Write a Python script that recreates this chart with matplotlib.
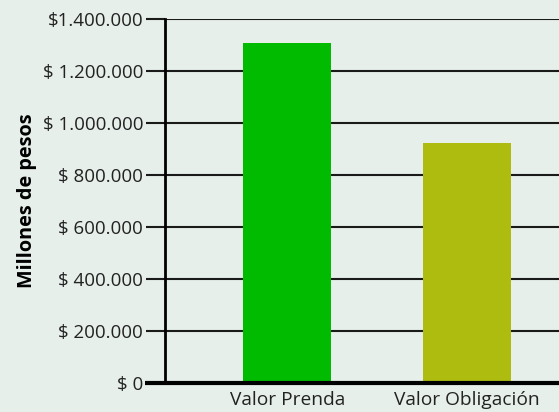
import matplotlib.pyplot as plt

# --- data ---
categories = ['Valor Prenda', 'Valor Obligación']
valores = [1307000, 923000]
colores = ['#00BB00', '#ADBC0E']
ticks = [0, 200000, 400000, 600000, 800000, 1000000, 1200000, 1400000]
tick_labels = ['$ 0', '$ 200.000', '$ 400.000', '$ 600.000', '$ 800.000',
               '$ 1.000.000', '$ 1.200.000', '$1.400.000']

bg = '#E6EFEA'
plt.rcParams['font.family'] = ['Open Sans', 'DejaVu Sans']

fig = plt.figure(figsize=(5.59, 4.12), dpi=100, facecolor=bg)
ax = fig.add_axes([165 / 559, 1 - 383 / 412, 394 / 559, 364 / 412])
ax.set_facecolor(bg)

x = range(len(categories))
ax.bar(x, valores, width=0.49, color=colores, zorder=3)

ax.set_xlim(-0.682, 1.513)
ax.set_ylim(0, 1400000)
ax.set_yticks(ticks)
ax.set_yticklabels(tick_labels, fontsize=13.5, color='#222222')
ax.set_xticks(list(x))
ax.set_xticklabels(categories, fontsize=13.8, color='#222222')

ax.grid(axis='y', color='#1a1a1a', lw=1.5, zorder=1)
ax.tick_params(axis='y', length=13.7, width=1.5, color='#1a1a1a', pad=2)
ax.tick_params(axis='x', length=0, pad=6)

for s in ['top', 'right']:
    ax.spines[s].set_visible(False)
ax.spines['left'].set_linewidth(2)
ax.spines['left'].set_zorder(4)
ax.spines['bottom'].set_visible(False)
ax.plot([-20 / 394, 1], [0, 0], transform=ax.transAxes, color='black',
        lw=3, clip_on=False, zorder=5, solid_capstyle='butt')

ax.set_ylabel('Millones de pesos', fontsize=14.3, fontweight='bold', labelpad=4)

fig.savefig('out.png', dpi=100, facecolor=bg)
